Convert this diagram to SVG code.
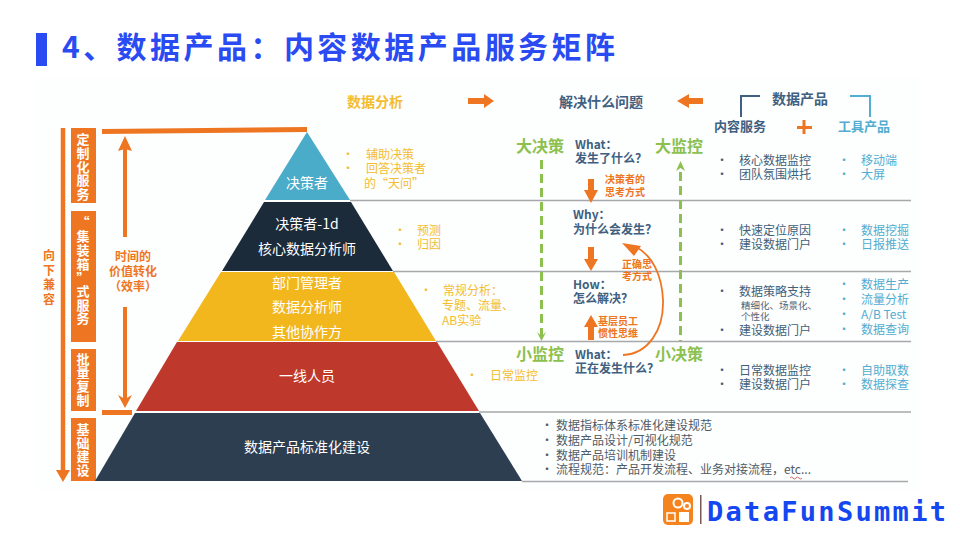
<svg xmlns="http://www.w3.org/2000/svg" width="960" height="540" viewBox="0 0 960 540">
<defs>
<style>
text{font-family:"Noto Sans CJK SC","Noto Sans",sans-serif}
.b{font-weight:700}
.v{font-size:13px;font-weight:700;fill:#fff;text-anchor:middle}
.o{fill:#ee7623}
.ol{fill:#ee7623;font-weight:700}
.g{fill:#8cc04f;font-weight:700;font-size:16px}
.w{fill:#fff;text-anchor:middle;font-size:14px}
.y{fill:#f3bd2e;font-size:12px}
.n{fill:#3f6078;font-size:12px}
.c{fill:#52add0;font-size:12px}
.q{fill:#3f6080;font-size:12px;font-weight:700}
.k{fill:#4f5b66;font-size:12px}
.rule{stroke:#a6a8aa;stroke-width:1.5;fill:none}
.dash{stroke:#8cc04f;stroke-width:3;stroke-dasharray:9 5;fill:none}
.line{stroke:#ee7623;fill:none}
</style>
</defs>
<rect x="36" y="78" width="884" height="412" fill="#fdfefe"/>
<g id="title">
<rect x="36" y="33" width="11" height="33" fill="#2b4bf2"/>
<text x="62" y="58" font-size="30" font-weight="700" fill="#2b4bf2" textLength="553">4、数据产品：内容数据产品服务矩阵</text>
</g>
<g id="connectors">
<path class="rule" d="M350 200.500H911M393 271.500H911M436 341.500H911M479 412H911M522 481.500H908"/>
<path class="line" stroke-width="4.500" d="M63 128V472"/>
<path class="o" d="M56 470H70L63 482Z"/>
<path class="line" stroke-width="5" d="M102 131.500L307 129.500"/>
<path class="line" stroke-width="4" d="M125 237V146"/>
<path class="o" d="M118 151L125 136L132 151L125 149Z"/>
<path class="line" stroke-width="4" d="M125 307V400"/>
<path class="o" d="M118 395L125 399L132 395L125 408Z"/>
<path class="line" stroke-width="5" d="M102 412.500H132"/>
<path class="o" d="M468 98H484V94L494 101L484 108V104H468Z"/>
<path class="o" d="M703 98H689V94L677 101L689 108V104H703Z"/>
<path class="dash" d="M541.500 160V336"/>
<path fill="#8cc04f" d="M537 332L541.500 336L546 332L541.500 341Z"/>
<path class="dash" d="M680.500 172V341"/>
<path fill="#8cc04f" d="M676 171L680.500 161L685 171L680.500 168Z"/>
<path class="o" d="M588 179H594V190H598L591 203L584 190H588Z"/>
<path class="o" d="M588 247H594V259H598L591 271L584 259H588Z"/>
<path class="o" d="M588 340V327H584L591 315L598 327H594V340Z"/>
<path class="line" stroke-width="1.800" d="M623 355C648 354 664 330 663 300C662 275 652 255 636 247"/>
<path class="o" d="M622 243L641 246L634 256Z"/>
</g>
<g id="side-labels">
<rect x="71" y="128" width="25" height="75" class="o"/>
<text class="v"><tspan x="83" y="144">定</tspan><tspan x="83" y="158">制</tspan><tspan x="83" y="172">化</tspan><tspan x="83" y="185">服</tspan><tspan x="83" y="199">务</tspan></text>
<rect x="71" y="211" width="25" height="131" class="o"/>
<text class="v"><tspan x="83" y="227">“</tspan><tspan x="83" y="241">集</tspan><tspan x="83" y="255">装</tspan><tspan x="83" y="269">箱</tspan><tspan x="83" y="283">”</tspan><tspan x="83" y="296">式</tspan><tspan x="83" y="310">服</tspan><tspan x="83" y="323">务</tspan></text>
<rect x="71" y="349" width="25" height="62" class="o"/>
<text class="v"><tspan x="83" y="364">批</tspan><tspan x="83" y="377">量</tspan><tspan x="83" y="391">复</tspan><tspan x="83" y="405">制</tspan></text>
<rect x="71" y="418" width="25" height="63" class="o"/>
<text class="v"><tspan x="83" y="434">基</tspan><tspan x="83" y="448">础</tspan><tspan x="83" y="461">建</tspan><tspan x="83" y="475">设</tspan></text>
<text class="ol" font-size="12" text-anchor="middle"><tspan x="49" y="260">向</tspan><tspan x="49" y="275">下</tspan><tspan x="49" y="289">兼</tspan><tspan x="49" y="304">容</tspan></text>
<text class="ol" font-size="12" text-anchor="middle"><tspan x="133" y="261">时间的</tspan><tspan x="133" y="276">价值转化</tspan><tspan x="133" y="291">（效率）</tspan></text>
</g>
<g id="tier-1"><path d="M307 132L350 200H265Z" fill="#4bacc9"/><text class="w" x="307" y="188">决策者</text></g>
<g id="tier-2"><path d="M264 202H351L393 271H222Z" fill="#1c2b3a"/><text class="w" x="307" y="229">决策者-1d</text><text class="w" x="307" y="254">核心数据分析师</text></g>
<g id="tier-3"><path d="M221 272H394L436 341H178Z" fill="#f2b71c"/><text class="w" x="307" y="288">部门管理者</text><text class="w" x="307" y="312">数据分析师</text><text class="w" x="307" y="337">其他协作方</text></g>
<g id="tier-4"><path d="M177 342H437L479 411H136Z" fill="#be392b"/><text class="w" x="307" y="381">一线人员</text></g>
<g id="tier-5"><path d="M135 413H480L522 481H95Z" fill="#2c3e50"/><text class="w" x="307" y="452">数据产品标准化建设</text></g>
<g id="analysis">
<text x="347" y="107" font-size="14" font-weight="700" fill="#f3bd2e">数据分析</text>
<text class="y"><tspan x="342" y="159">•</tspan><tspan x="366" y="159">辅助决策</tspan><tspan x="342" y="173">•</tspan><tspan x="366" y="173">回答决策者</tspan><tspan x="364" y="188">的“天问”</tspan></text>
<text class="y"><tspan x="394" y="235">•</tspan><tspan x="417" y="235">预测</tspan><tspan x="394" y="249">•</tspan><tspan x="417" y="249">归因</tspan></text>
<text class="y"><tspan x="420" y="295">•</tspan><tspan x="443" y="295">常规分析：</tspan><tspan x="442" y="310">专题、流量、</tspan><tspan x="442" y="325">AB实验</tspan></text>
<text class="y"><tspan x="466" y="380">•</tspan><tspan x="490" y="380">日常监控</tspan></text>
</g>
<g id="questions">
<text x="559" y="107" font-size="14" font-weight="700" fill="#3f6080">解决什么问题</text>
<text class="g" x="516" y="152">大决策</text>
<text class="g" x="655" y="152">大监控</text>
<text class="g" x="516" y="360">小监控</text>
<text class="g" x="655" y="360">小决策</text>
<text class="q"><tspan x="575" y="149">What：</tspan><tspan x="575" y="163">发生了什么？</tspan></text>
<text class="q"><tspan x="573" y="219">Why：</tspan><tspan x="573" y="234">为什么会发生？</tspan></text>
<text class="q"><tspan x="573" y="289">How：</tspan><tspan x="573" y="303">怎么解决？</tspan></text>
<text class="q"><tspan x="575" y="359">What：</tspan><tspan x="575" y="373">正在发生什么？</tspan></text>
<text class="ol" font-size="10"><tspan x="605" y="183">决策者的</tspan><tspan x="605" y="196">思考方式</tspan></text>
<text class="ol" font-size="10"><tspan x="622" y="268">正确思</tspan><tspan x="622" y="280">考方式</tspan></text>
<text class="ol" font-size="10"><tspan x="598" y="325">基层员工</tspan><tspan x="598" y="337">惯性思维</tspan></text>
</g>
<g id="products">
<path d="M741 117V96H760" fill="none" stroke="#3f6080" stroke-width="2"/>
<path d="M850 96H870V117" fill="none" stroke="#52add0" stroke-width="2"/>
<text x="772" y="104" font-size="14" font-weight="700" fill="#3f6080">数据产品</text>
<text x="714" y="131" font-size="13" font-weight="700" fill="#3f6080">内容服务</text>
<text x="838" y="131" font-size="13" font-weight="700" fill="#52add0">工具产品</text>
<path d="M804 120V134M797 127.500H812" stroke="#ee7623" stroke-width="3" fill="none"/>
<text class="n"><tspan x="716" y="165">•</tspan><tspan x="739" y="165">核心数据监控</tspan><tspan x="716" y="179">•</tspan><tspan x="739" y="179">团队氛围烘托</tspan></text>
<text class="c"><tspan x="838" y="165">•</tspan><tspan x="861" y="165">移动端</tspan><tspan x="838" y="179">•</tspan><tspan x="861" y="179">大屏</tspan></text>
<text class="n"><tspan x="716" y="235">•</tspan><tspan x="739" y="235">快速定位原因</tspan><tspan x="716" y="249">•</tspan><tspan x="739" y="249">建设数据门户</tspan></text>
<text class="c"><tspan x="838" y="235">•</tspan><tspan x="861" y="235">数据挖掘</tspan><tspan x="838" y="249">•</tspan><tspan x="861" y="249">日报推送</tspan></text>
<text class="n"><tspan x="716" y="296">•</tspan><tspan x="739" y="296">数据策略支持</tspan><tspan x="716" y="335">•</tspan><tspan x="739" y="335">建设数据门户</tspan></text>
<text font-size="9.500" fill="#4f6678"><tspan x="741" y="309">精细化、场景化、</tspan><tspan x="741" y="320">个性化</tspan></text>
<text class="c"><tspan x="838" y="289">•</tspan><tspan x="861" y="289">数据生产</tspan><tspan x="838" y="304">•</tspan><tspan x="861" y="304">流量分析</tspan><tspan x="838" y="319">•</tspan><tspan x="861" y="319">A/B Test</tspan><tspan x="838" y="334">•</tspan><tspan x="861" y="334">数据查询</tspan></text>
<text class="n"><tspan x="716" y="375">•</tspan><tspan x="739" y="375">日常数据监控</tspan><tspan x="716" y="389">•</tspan><tspan x="739" y="389">建设数据门户</tspan></text>
<text class="c"><tspan x="838" y="375">•</tspan><tspan x="861" y="375">自助取数</tspan><tspan x="838" y="389">•</tspan><tspan x="861" y="389">数据探查</tspan></text>
</g>
<g id="foundation">
<text class="k"><tspan x="541" y="430">•</tspan><tspan x="556" y="430">数据指标体系标准化建设规范</tspan><tspan x="541" y="445">•</tspan><tspan x="556" y="445">数据产品设计/可视化规范</tspan><tspan x="541" y="460">•</tspan><tspan x="556" y="460">数据产品培训机制建设</tspan><tspan x="541" y="474">•</tspan><tspan x="556" y="474">流程规范：产品开发流程、业务对接流程，etc...</tspan></text>
<path d="M790 478q1.500 -2 3 0t3 0t3 0t3 0" fill="none" stroke="#c8423a" stroke-width="0.800"/>
</g>
<g id="logo">
<rect x="663" y="494" width="30" height="31" rx="5" fill="#f5841f"/>
<circle cx="678" cy="503" r="4.500" fill="none" stroke="#fff" stroke-width="2"/>
<circle cx="687" cy="506" r="3" fill="none" stroke="#fff" stroke-width="2"/>
<rect x="667" y="513" width="8" height="8" fill="none" stroke="#fff" stroke-width="1.500"/>
<rect x="679" y="512" width="10" height="10" fill="#fff"/>
<rect x="700" y="495" width="1.500" height="29" fill="#7a5a50"/>
<text x="707" y="521" font-size="27" font-weight="700" fill="#1447f0" textLength="239" style="font-family:'DejaVu Sans Mono',monospace">DataFunSummit</text>
</g>
</svg>
